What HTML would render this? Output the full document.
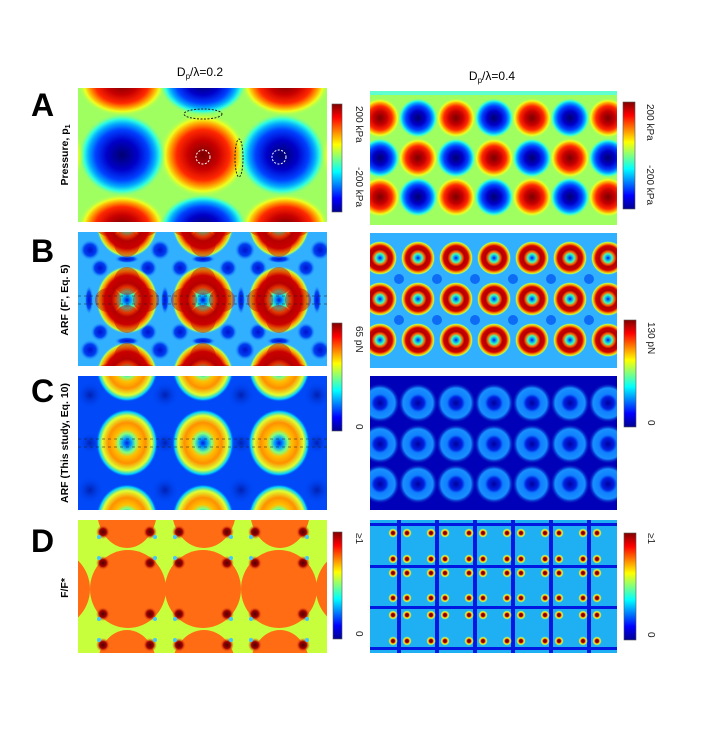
<!DOCTYPE html>
<html><head><meta charset="utf-8"><style>
html,body{margin:0;padding:0;background:#fff}
svg{display:block}
text{font-family:"Liberation Sans",sans-serif}
</style></head><body>
<svg width="706" height="735" viewBox="0 0 706 735" xmlns="http://www.w3.org/2000/svg">
<defs>
 <radialGradient id="pos"><stop offset="0" stop-color="#7a0000"/><stop offset=".35" stop-color="#c80000"/><stop offset=".6" stop-color="#ff2800"/><stop offset=".75" stop-color="#ffa000"/><stop offset=".86" stop-color="#f0ff20"/><stop offset="1" stop-color="#a0ff60" stop-opacity="0"/></radialGradient>
 <radialGradient id="neg"><stop offset="0" stop-color="#000070"/><stop offset=".35" stop-color="#0000c8"/><stop offset=".6" stop-color="#0040ff"/><stop offset=".75" stop-color="#00a8ff"/><stop offset=".86" stop-color="#30ffe0"/><stop offset="1" stop-color="#a0ff60" stop-opacity="0"/></radialGradient>
 <radialGradient id="ringB"><stop offset="0" stop-color="#0010d0"/><stop offset=".12" stop-color="#00a0ff"/><stop offset=".25" stop-color="#40ffb0"/><stop offset=".38" stop-color="#ff6000"/><stop offset=".5" stop-color="#b00000"/><stop offset=".72" stop-color="#d00000"/><stop offset=".84" stop-color="#ffa000"/><stop offset=".93" stop-color="#c0ff40"/><stop offset="1" stop-color="#30c0ff" stop-opacity="0"/></radialGradient>
 <radialGradient id="ringC"><stop offset="0" stop-color="#0020e0"/><stop offset=".14" stop-color="#00a0ff"/><stop offset=".28" stop-color="#80ff80"/><stop offset=".4" stop-color="#ffc000"/><stop offset=".6" stop-color="#ff9000"/><stop offset=".8" stop-color="#e0ff30"/><stop offset=".92" stop-color="#00d0ff"/><stop offset="1" stop-color="#0040f0" stop-opacity="0"/></radialGradient>
 <radialGradient id="ringCR"><stop offset="0" stop-color="#0000a0"/><stop offset=".3" stop-color="#0020e0"/><stop offset=".45" stop-color="#1080ff"/><stop offset=".75" stop-color="#1890ff"/><stop offset="1" stop-color="#0000b0" stop-opacity="0"/></radialGradient>
 <radialGradient id="dot"><stop offset="0" stop-color="#700000"/><stop offset=".35" stop-color="#a00000"/><stop offset=".5" stop-color="#ffa000"/><stop offset=".7" stop-color="#d0ff50"/><stop offset="1" stop-color="#20b0f0" stop-opacity="0"/></radialGradient>
 <radialGradient id="dred"><stop offset="0" stop-color="#500000"/><stop offset=".5" stop-color="#a00000"/><stop offset="1" stop-color="#ff6a10" stop-opacity="0"/></radialGradient>
 <radialGradient id="bdot"><stop offset="0" stop-color="#0010d0"/><stop offset=".6" stop-color="#0040f0"/><stop offset="1" stop-color="#2090ff" stop-opacity="0"/></radialGradient>
 <radialGradient id="cdot"><stop offset="0" stop-color="#0020b0"/><stop offset="1" stop-color="#0040f0" stop-opacity="0"/></radialGradient>
 <linearGradient id="jet" x1="0" y1="1" x2="0" y2="0"><stop offset="0" stop-color="#00008f"/><stop offset=".125" stop-color="#0000ff"/><stop offset=".375" stop-color="#00ffff"/><stop offset=".625" stop-color="#ffff00"/><stop offset=".875" stop-color="#ff0000"/><stop offset="1" stop-color="#800000"/></linearGradient>
 <clipPath id="cA"><rect x="78" y="88" width="249" height="134"/></clipPath>
 <clipPath id="cA2"><rect x="370" y="91" width="247" height="134"/></clipPath>
 <clipPath id="cB"><rect x="78" y="232" width="249" height="134"/></clipPath>
 <clipPath id="cB2"><rect x="370" y="233" width="247" height="135"/></clipPath>
 <clipPath id="cC"><rect x="78" y="376" width="249" height="134"/></clipPath>
 <clipPath id="cC2"><rect x="370" y="376" width="247" height="134"/></clipPath>
 <clipPath id="cD"><rect x="78" y="520" width="249" height="133"/></clipPath>
 <clipPath id="cD2"><rect x="370" y="520" width="247" height="133"/></clipPath>
 <g id="cloverB">
  <ellipse cx="0" cy="0" rx="31" ry="34" fill="url(#ringB)"/>
  <ellipse cx="0" cy="-19" rx="13" ry="14" fill="#c00000" opacity=".45"/>
  <ellipse cx="0" cy="19" rx="13" ry="14" fill="#c00000" opacity=".45"/>
  <ellipse cx="-19" cy="0" rx="13" ry="12" fill="#c00000" opacity=".45"/>
  <ellipse cx="19" cy="0" rx="13" ry="12" fill="#c00000" opacity=".45"/>
 </g>
 <g id="cloverC">
  <ellipse cx="0" cy="0" rx="31" ry="34" fill="url(#ringC)"/>
 </g>
</defs>

<text x="200" y="76" font-size="12" text-anchor="middle">D<tspan font-size="8" dy="3">p</tspan><tspan dy="-3">/λ=0.2</tspan></text>
<text x="492" y="80" font-size="12" text-anchor="middle">D<tspan font-size="8" dy="3">p</tspan><tspan dy="-3">/λ=0.4</tspan></text>

<g font-weight="bold" font-size="32">
<text x="31" y="116">A</text><text x="31" y="262">B</text><text x="31" y="402">C</text><text x="31" y="552">D</text>
</g>
<g font-weight="bold" font-size="10.5" text-anchor="middle">
<text transform="translate(68,155) rotate(-90)">Pressure, p<tspan font-size="7" dy="2">1</tspan></text>
<text transform="translate(68,300) rotate(-90)">ARF (F', Eq. 5)</text>
<text transform="translate(68,443) rotate(-90)">ARF (This study, Eq. 10)</text>
<text transform="translate(68,588) rotate(-90)">F/F*</text>
</g>

<!-- A left -->
<g clip-path="url(#cA)">
<rect x="78" y="88" width="249" height="134" fill="#a0ff60"/>
<ellipse cx="203" cy="155" rx="44" ry="42" fill="url(#pos)"/>
<ellipse cx="122" cy="155" rx="44" ry="42" fill="url(#neg)"/>
<ellipse cx="282" cy="155" rx="44" ry="42" fill="url(#neg)"/>
<ellipse cx="40" cy="155" rx="44" ry="42" fill="url(#pos)"/>
<ellipse cx="365" cy="155" rx="44" ry="42" fill="url(#pos)"/>
<ellipse cx="122" cy="84" rx="44" ry="32" fill="url(#pos)"/>
<ellipse cx="285" cy="84" rx="44" ry="32" fill="url(#pos)"/>
<ellipse cx="203" cy="84" rx="44" ry="32" fill="url(#neg)"/>
<ellipse cx="122" cy="226" rx="44" ry="32" fill="url(#pos)"/>
<ellipse cx="285" cy="226" rx="44" ry="32" fill="url(#pos)"/>
<ellipse cx="203" cy="226" rx="44" ry="32" fill="url(#neg)"/>
<ellipse cx="203" cy="114" rx="19" ry="5" fill="none" stroke="#222" stroke-dasharray="2,1.5"/>
<ellipse cx="239" cy="158" rx="4" ry="19" fill="none" stroke="#222" stroke-dasharray="2,1.5"/>
<circle cx="203" cy="157" r="7" fill="none" stroke="#fff" stroke-dasharray="2,1.5"/>
<circle cx="279" cy="157" r="7" fill="none" stroke="#fff" stroke-dasharray="2,1.5"/>
</g>

<!-- A right -->
<g clip-path="url(#cA2)">
<rect x="370" y="91" width="247" height="134" fill="#a0ff60"/>
<rect x="370" y="91" width="247" height="4" fill="#60ffd0"/>
<g id="rowA1">
<ellipse cx="380" cy="118" rx="20" ry="20" fill="url(#pos)"/><ellipse cx="418" cy="118" rx="20" ry="20" fill="url(#neg)"/><ellipse cx="456" cy="118" rx="20" ry="20" fill="url(#pos)"/><ellipse cx="494" cy="118" rx="20" ry="20" fill="url(#neg)"/><ellipse cx="532" cy="118" rx="20" ry="20" fill="url(#pos)"/><ellipse cx="570" cy="118" rx="20" ry="20" fill="url(#neg)"/><ellipse cx="608" cy="118" rx="20" ry="20" fill="url(#pos)"/>
</g>
<ellipse cx="380" cy="158" rx="20" ry="20" fill="url(#neg)"/><ellipse cx="418" cy="158" rx="20" ry="20" fill="url(#pos)"/><ellipse cx="456" cy="158" rx="20" ry="20" fill="url(#neg)"/><ellipse cx="494" cy="158" rx="20" ry="20" fill="url(#pos)"/><ellipse cx="532" cy="158" rx="20" ry="20" fill="url(#neg)"/><ellipse cx="570" cy="158" rx="20" ry="20" fill="url(#pos)"/><ellipse cx="608" cy="158" rx="20" ry="20" fill="url(#neg)"/>
<use href="#rowA1" y="79"/>
</g>

<!-- B left -->
<g clip-path="url(#cB)">
<rect x="78" y="232" width="249" height="134" fill="#30b0ff"/>
<g fill="url(#bdot)">
<circle cx="90" cy="250" r="10"/><circle cx="160" cy="250" r="10"/><circle cx="245" cy="250" r="10"/><circle cx="320" cy="250" r="10"/>
<circle cx="90" cy="350" r="10"/><circle cx="160" cy="350" r="10"/><circle cx="245" cy="350" r="10"/><circle cx="320" cy="350" r="10"/>
<circle cx="100" cy="268" r="9"/><circle cx="148" cy="268" r="9"/><circle cx="180" cy="268" r="9"/><circle cx="228" cy="268" r="9"/><circle cx="258" cy="268" r="9"/><circle cx="306" cy="268" r="9"/>
<circle cx="100" cy="332" r="9"/><circle cx="148" cy="332" r="9"/><circle cx="180" cy="332" r="9"/><circle cx="228" cy="332" r="9"/><circle cx="258" cy="332" r="9"/><circle cx="306" cy="332" r="9"/>
<ellipse cx="127" cy="259" rx="12" ry="4"/><ellipse cx="203" cy="259" rx="12" ry="4"/><ellipse cx="279" cy="259" rx="12" ry="4"/>
<ellipse cx="127" cy="341" rx="12" ry="4"/><ellipse cx="203" cy="341" rx="12" ry="4"/><ellipse cx="279" cy="341" rx="12" ry="4"/>
<ellipse cx="165" cy="300" rx="4" ry="14"/><ellipse cx="241" cy="300" rx="4" ry="14"/><ellipse cx="89" cy="300" rx="4" ry="14"/><ellipse cx="317" cy="300" rx="4" ry="14"/>
</g>
<use href="#cloverB" x="127" y="300"/><use href="#cloverB" x="203" y="300"/><use href="#cloverB" x="279" y="300"/>
<use href="#cloverB" x="127" y="224"/><use href="#cloverB" x="203" y="224"/><use href="#cloverB" x="279" y="224"/>
<use href="#cloverB" x="127" y="376"/><use href="#cloverB" x="203" y="376"/><use href="#cloverB" x="279" y="376"/>
<g stroke="#222" stroke-width=".7" opacity=".7">
<line x1="78" y1="296" x2="327" y2="296" stroke-dasharray="3,3"/><line x1="78" y1="304" x2="327" y2="304" stroke-dasharray="3,3"/>
</g>
</g>

<!-- B right -->
<g clip-path="url(#cB2)">
<rect x="370" y="233" width="247" height="135" fill="#30b0ff"/>
<g id="rowB2">
<circle cx="380" cy="258" r="17" fill="url(#ringB)"/><circle cx="418" cy="258" r="17" fill="url(#ringB)"/><circle cx="456" cy="258" r="17" fill="url(#ringB)"/><circle cx="494" cy="258" r="17" fill="url(#ringB)"/><circle cx="532" cy="258" r="17" fill="url(#ringB)"/><circle cx="570" cy="258" r="17" fill="url(#ringB)"/><circle cx="608" cy="258" r="17" fill="url(#ringB)"/>
</g>
<use href="#rowB2" y="41"/><use href="#rowB2" y="82"/>
<g fill="#0050f0" opacity=".7">
<circle cx="399" cy="279" r="5"/><circle cx="437" cy="279" r="5"/><circle cx="475" cy="279" r="5"/><circle cx="513" cy="279" r="5"/><circle cx="551" cy="279" r="5"/><circle cx="589" cy="279" r="5"/>
<circle cx="399" cy="320" r="5"/><circle cx="437" cy="320" r="5"/><circle cx="475" cy="320" r="5"/><circle cx="513" cy="320" r="5"/><circle cx="551" cy="320" r="5"/><circle cx="589" cy="320" r="5"/>
</g>
</g>

<!-- C left -->
<g clip-path="url(#cC)">
<rect x="78" y="376" width="249" height="134" fill="#0048f8"/>
<g fill="url(#cdot)">
<circle cx="90" cy="395" r="13"/><circle cx="165" cy="395" r="13"/><circle cx="241" cy="395" r="13"/><circle cx="317" cy="395" r="13"/>
<circle cx="90" cy="490" r="13"/><circle cx="165" cy="490" r="13"/><circle cx="241" cy="490" r="13"/><circle cx="317" cy="490" r="13"/>
<circle cx="90" cy="443" r="10"/><circle cx="165" cy="443" r="10"/><circle cx="241" cy="443" r="10"/><circle cx="317" cy="443" r="10"/>
</g>
<use href="#cloverC" x="127" y="443"/><use href="#cloverC" x="203" y="443"/><use href="#cloverC" x="279" y="443"/>
<use href="#cloverC" x="127" y="368"/><use href="#cloverC" x="203" y="368"/><use href="#cloverC" x="279" y="368"/>
<use href="#cloverC" x="127" y="518"/><use href="#cloverC" x="203" y="518"/><use href="#cloverC" x="279" y="518"/>
<g stroke="#222" stroke-width=".7" opacity=".7">
<line x1="78" y1="439" x2="327" y2="439" stroke-dasharray="3,3"/><line x1="78" y1="447" x2="327" y2="447" stroke-dasharray="3,3"/>
</g>
</g>

<!-- C right -->
<g clip-path="url(#cC2)">
<rect x="370" y="376" width="247" height="134" fill="#0000b8"/>
<g id="rowC2">
<circle cx="380" cy="403" r="20" fill="url(#ringCR)"/><circle cx="418" cy="403" r="20" fill="url(#ringCR)"/><circle cx="456" cy="403" r="20" fill="url(#ringCR)"/><circle cx="494" cy="403" r="20" fill="url(#ringCR)"/><circle cx="532" cy="403" r="20" fill="url(#ringCR)"/><circle cx="570" cy="403" r="20" fill="url(#ringCR)"/><circle cx="608" cy="403" r="20" fill="url(#ringCR)"/>
</g>
<use href="#rowC2" y="41"/><use href="#rowC2" y="81"/>
</g>

<!-- D left -->
<g clip-path="url(#cD)">
<rect x="78" y="520" width="249" height="133" fill="#c8ff3c"/>
<g fill="#ff6c14">
<ellipse cx="52" cy="589" rx="38" ry="39"/><ellipse cx="128" cy="589" rx="38" ry="39"/><ellipse cx="203" cy="589" rx="38" ry="39"/><ellipse cx="279" cy="589" rx="38" ry="39"/><ellipse cx="354" cy="589" rx="38" ry="39"/>
<ellipse cx="127" cy="510" rx="30" ry="38"/><ellipse cx="204" cy="510" rx="32" ry="38"/><ellipse cx="280" cy="510" rx="30" ry="38"/>
<ellipse cx="127" cy="668" rx="30" ry="38"/><ellipse cx="204" cy="668" rx="32" ry="38"/><ellipse cx="280" cy="668" rx="30" ry="38"/>
</g>
<g fill="url(#dred)">
<circle cx="103" cy="532" r="7"/><circle cx="150" cy="532" r="7"/><circle cx="179" cy="532" r="7"/><circle cx="227" cy="532" r="7"/><circle cx="255" cy="532" r="7"/><circle cx="303" cy="532" r="7"/>
<circle cx="103" cy="563" r="7"/><circle cx="150" cy="563" r="7"/><circle cx="179" cy="563" r="7"/><circle cx="227" cy="563" r="7"/><circle cx="255" cy="563" r="7"/><circle cx="303" cy="563" r="7"/>
<circle cx="103" cy="614" r="7"/><circle cx="150" cy="614" r="7"/><circle cx="179" cy="614" r="7"/><circle cx="227" cy="614" r="7"/><circle cx="255" cy="614" r="7"/><circle cx="303" cy="614" r="7"/>
<circle cx="103" cy="645" r="7"/><circle cx="150" cy="645" r="7"/><circle cx="179" cy="645" r="7"/><circle cx="227" cy="645" r="7"/><circle cx="255" cy="645" r="7"/><circle cx="303" cy="645" r="7"/>
</g>
<g fill="#40c8ff">
<circle cx="99" cy="537" r="2"/><circle cx="155" cy="537" r="2"/><circle cx="175" cy="537" r="2"/><circle cx="231" cy="537" r="2"/><circle cx="251" cy="537" r="2"/><circle cx="307" cy="537" r="2"/>
<circle cx="99" cy="558" r="2"/><circle cx="155" cy="558" r="2"/><circle cx="175" cy="558" r="2"/><circle cx="231" cy="558" r="2"/><circle cx="251" cy="558" r="2"/><circle cx="307" cy="558" r="2"/>
<circle cx="99" cy="619" r="2"/><circle cx="155" cy="619" r="2"/><circle cx="175" cy="619" r="2"/><circle cx="231" cy="619" r="2"/><circle cx="251" cy="619" r="2"/><circle cx="307" cy="619" r="2"/>
<circle cx="99" cy="640" r="2"/><circle cx="155" cy="640" r="2"/><circle cx="175" cy="640" r="2"/><circle cx="231" cy="640" r="2"/><circle cx="251" cy="640" r="2"/><circle cx="307" cy="640" r="2"/>
</g>
</g>

<!-- D right -->
<g clip-path="url(#cD2)">
<rect x="370" y="520" width="247" height="133" fill="#1eb0f2"/>
<g fill="#0018e0">
<rect x="397" y="520" width="4" height="133"/><rect x="435" y="520" width="4" height="133"/><rect x="473" y="520" width="4" height="133"/><rect x="511" y="520" width="4" height="133"/><rect x="549" y="520" width="4" height="133"/><rect x="587" y="520" width="4" height="133"/>
<rect x="370" y="523" width="247" height="3"/><rect x="370" y="565" width="247" height="3"/><rect x="370" y="606" width="247" height="3"/><rect x="370" y="647" width="247" height="3"/>
</g>
<g id="dotrow">
<circle cx="393" cy="533" r="5" fill="url(#dot)"/><circle cx="407" cy="533" r="5" fill="url(#dot)"/><circle cx="431" cy="533" r="5" fill="url(#dot)"/><circle cx="445" cy="533" r="5" fill="url(#dot)"/><circle cx="469" cy="533" r="5" fill="url(#dot)"/><circle cx="483" cy="533" r="5" fill="url(#dot)"/><circle cx="507" cy="533" r="5" fill="url(#dot)"/><circle cx="521" cy="533" r="5" fill="url(#dot)"/><circle cx="545" cy="533" r="5" fill="url(#dot)"/><circle cx="559" cy="533" r="5" fill="url(#dot)"/><circle cx="583" cy="533" r="5" fill="url(#dot)"/><circle cx="597" cy="533" r="5" fill="url(#dot)"/>
</g>
<use href="#dotrow" y="26"/><use href="#dotrow" y="40"/><use href="#dotrow" y="65"/><use href="#dotrow" y="82"/><use href="#dotrow" y="108"/>
</g>

<g stroke="#555" stroke-width=".6">
<rect x="332" y="104" width="10" height="108" fill="url(#jet)"/>
<rect x="623" y="102" width="12" height="107" fill="url(#jet)"/>
<rect x="332" y="323" width="10" height="108" fill="url(#jet)"/>
<rect x="624" y="320" width="12" height="107" fill="url(#jet)"/>
<rect x="333" y="532" width="9" height="107" fill="url(#jet)"/>
<rect x="624" y="533" width="12" height="107" fill="url(#jet)"/>
</g>
<g font-size="10" fill="#222">
<text transform="translate(356,106) rotate(90)">200 kPa</text>
<text transform="translate(356,167) rotate(90)">-200 kPa</text>
<text transform="translate(647,104) rotate(90)">200 kPa</text>
<text transform="translate(647,165) rotate(90)">-200 kPa</text>
<text transform="translate(356,326) rotate(90)">65 pN</text>
<text transform="translate(356,424) rotate(90)">0</text>
<text transform="translate(648,322) rotate(90)">130 pN</text>
<text transform="translate(648,420) rotate(90)">0</text>
<text transform="translate(356,533) rotate(90)">≥1</text>
<text transform="translate(356,631) rotate(90)">0</text>
<text transform="translate(648,533) rotate(90)">≥1</text>
<text transform="translate(648,632) rotate(90)">0</text>
</g>
</svg>
</body></html>
